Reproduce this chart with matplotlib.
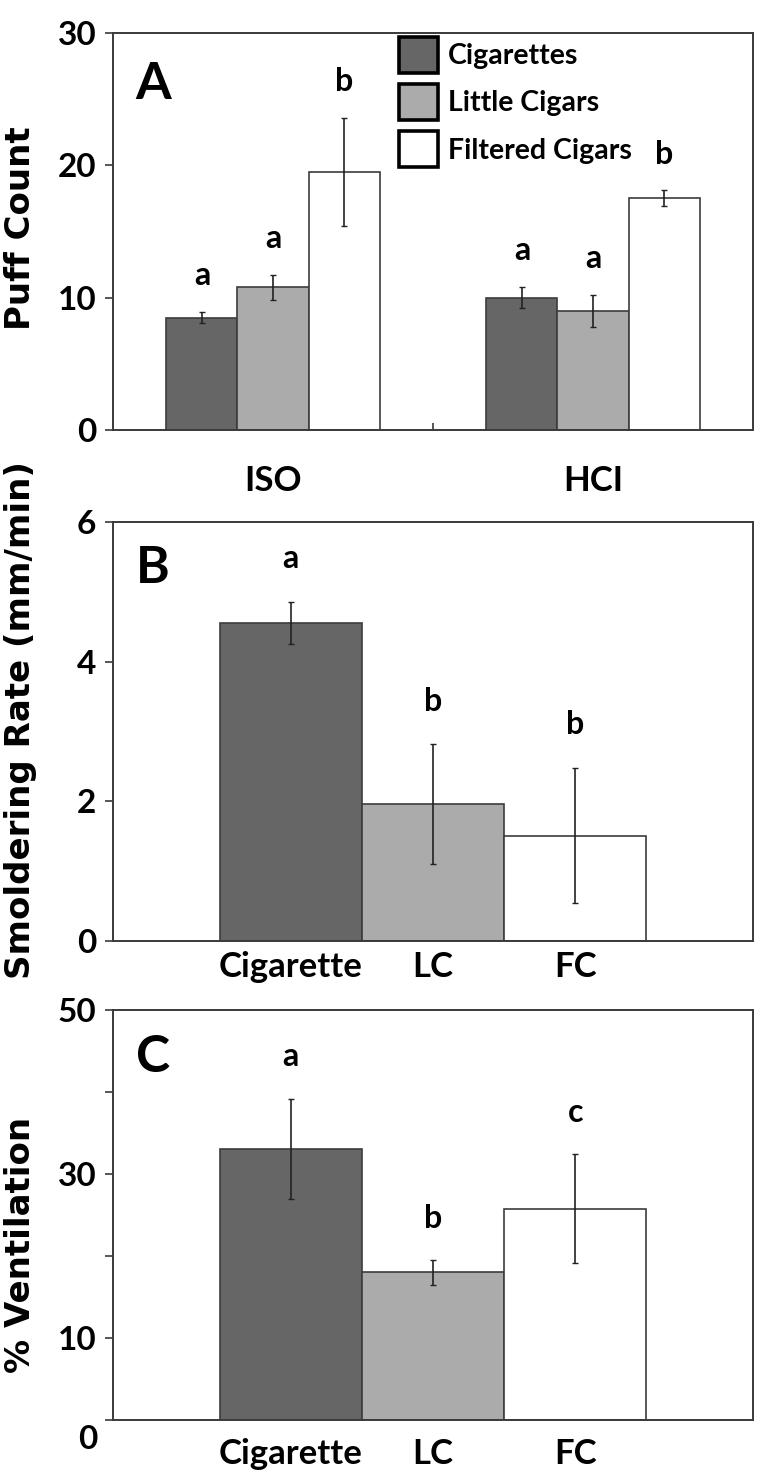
import numpy as np
import matplotlib
matplotlib.use("Agg")
import matplotlib.pyplot as plt
from matplotlib.patches import Patch

# Panel A: puff count by smoking regimen
regimens = ["ISO", "HCI"]
series_names = ["Cigarettes", "Little Cigars", "Filtered Cigars"]
cig_puff = [8.5, 10.0]
cig_puff_err = [0.45, 0.8]
lc_puff = [10.8, 9.0]
lc_puff_err = [0.95, 1.2]
fc_puff = [19.5, 17.5]
fc_puff_err = [4.1, 0.6]
puff_sig = [["a", "a"], ["a", "a"], ["b", "b"]]

# Panels B and C: per product
products = ["Cigarette", "LC", "FC"]
smolder = [4.56, 1.96, 1.51]
smolder_err = [0.30, 0.86, 0.97]
smolder_sig = ["a", "b", "b"]
vent = [33.1, 18.0, 25.75]
vent_err = [6.1, 1.55, 6.65]
vent_sig = ["a", "b", "c"]

colors = ["#666666", "#ababab", "#ffffff"]
EDGE = "#3c3c3c"
FONT = "Lato"

plt.rcParams["font.family"] = [FONT, "DejaVu Sans"]
plt.rcParams["font.weight"] = "bold"


def style_axes(ax):
    for s in ax.spines.values():
        s.set_color("#3a3a3a")
        s.set_linewidth(1.4)
    ax.tick_params(axis="y", direction="out", length=6, width=1.2, color="#3a3a3a",
                   labelsize=24, pad=6)


def add_letters(ax, xs, tops, letters, off):
    for x, t, s in zip(xs, tops, letters):
        ax.annotate(s, xy=(x, t), xytext=(0, off), textcoords="offset points",
                    ha="center", va="center", fontsize=23, fontweight="bold")


fig = plt.figure(figsize=(7.6, 14.78), dpi=100)
left, width = 113 / 760, 640 / 760
axA = fig.add_axes([left, 1 - 430 / 1478, width, 397 / 1478])
axB = fig.add_axes([left, 1 - 941 / 1478, width, 419 / 1478])
axC = fig.add_axes([left, 1 - 1420 / 1478, width, 410 / 1478])

# ---- Panel A
x = np.arange(1, len(regimens) + 1)
w = 0.222
means = [cig_puff, lc_puff, fc_puff]
errs = [cig_puff_err, lc_puff_err, fc_puff_err]
for i, (m, e) in enumerate(zip(means, errs)):
    xs = x + (i - 1) * w
    axA.bar(xs, m, width=w, color=colors[i], edgecolor=EDGE, linewidth=1.2, zorder=2)
    axA.errorbar(xs, m, yerr=e, fmt="none", ecolor="#222222", elinewidth=1.2,
                 capsize=2.5, capthick=1.0, zorder=3)
    add_letters(axA, xs, np.array(m) + np.array(e), puff_sig[i], 26)
axA.set_xlim(0.5, 2.5)
axA.set_ylim(0, 30)
axA.set_yticks([0, 10, 20, 30])
axA.set_xticks(x)
axA.set_xticklabels(regimens)
axA.tick_params(axis="x", length=0, labelsize=25, pad=25)
axA.set_xticks([1.5], minor=True)
axA.tick_params(axis="x", which="minor", direction="in", length=5, width=1.2, color="#3a3a3a")
style_axes(axA)
axA.text(0.0625, 0.87, "A", transform=axA.transAxes, ha="center", va="center",
         fontsize=37, fontweight="bold")
handles = [Patch(facecolor=c, edgecolor="black", linewidth=2.6) for c in colors]
axA.legend(handles, series_names, loc="upper left", bbox_to_anchor=(0.447, 0.99),
           frameon=False, borderpad=0, borderaxespad=0, handlelength=1.37,
           handleheight=1.57, handletextpad=0.36, labelspacing=0.39,
           prop={"family": FONT, "size": 20.5, "weight": "bold"})

# ---- Panel B
xp = np.arange(len(products))
axB.bar(xp, smolder, width=1.0, color=colors, edgecolor=EDGE, linewidth=1.2, zorder=2)
axB.errorbar(xp, smolder, yerr=smolder_err, fmt="none", ecolor="#222222", elinewidth=1.2,
             capsize=2.5, capthick=1.0, zorder=3)
add_letters(axB, xp, np.array(smolder) + np.array(smolder_err), smolder_sig, 31)
axB.set_xlim(-1.25, 3.25)
axB.set_ylim(0, 6)
axB.set_yticks([0, 2, 4, 6])
axB.set_xticks(xp)
axB.set_xticklabels(products)
axB.tick_params(axis="x", length=0, labelsize=25, pad=7)
style_axes(axB)
axB.text(0.0625, 0.89, "B", transform=axB.transAxes, ha="center", va="center",
         fontsize=37, fontweight="bold")

# ---- Panel C
axC.bar(xp, vent, width=1.0, color=colors, edgecolor=EDGE, linewidth=1.2, zorder=2)
axC.errorbar(xp, vent, yerr=vent_err, fmt="none", ecolor="#222222", elinewidth=1.2,
             capsize=2.5, capthick=1.0, zorder=3)
add_letters(axC, xp, np.array(vent) + np.array(vent_err), vent_sig, 30)
axC.set_xlim(-1.25, 3.25)
axC.set_ylim(0, 50)
axC.set_yticks([0, 10, 20, 30, 40, 50])
axC.set_yticklabels(["", "10", "", "30", "", "50"])
axC.set_xticks(xp)
axC.set_xticklabels(products)
axC.tick_params(axis="x", length=0, labelsize=25, pad=13)
style_axes(axC)
axC.annotate("0", xy=(0, 0), xycoords=("axes fraction", "data"), xytext=(-11.5, -14),
             textcoords="offset points", ha="right", va="center", fontsize=24,
             fontweight="bold")
axC.text(0.0625, 0.885, "C", transform=axC.transAxes, ha="center", va="center",
         fontsize=37, fontweight="bold")

# y labels
ylab = dict(rotation=90, ha="center", va="center", fontsize=24.5, fontweight="bold",
            family="DejaVu Sans")
fig.text(21 / 760, 1 - 228 / 1478, "Puff Count", **ylab)
fig.text(21 / 760, 1 - 720 / 1478, "Smoldering Rate (mm/min)", **ylab)
fig.text(21 / 760, 1 - 1245 / 1478, "% Ventilation", **ylab)

fig.savefig("out.png", dpi=100)
